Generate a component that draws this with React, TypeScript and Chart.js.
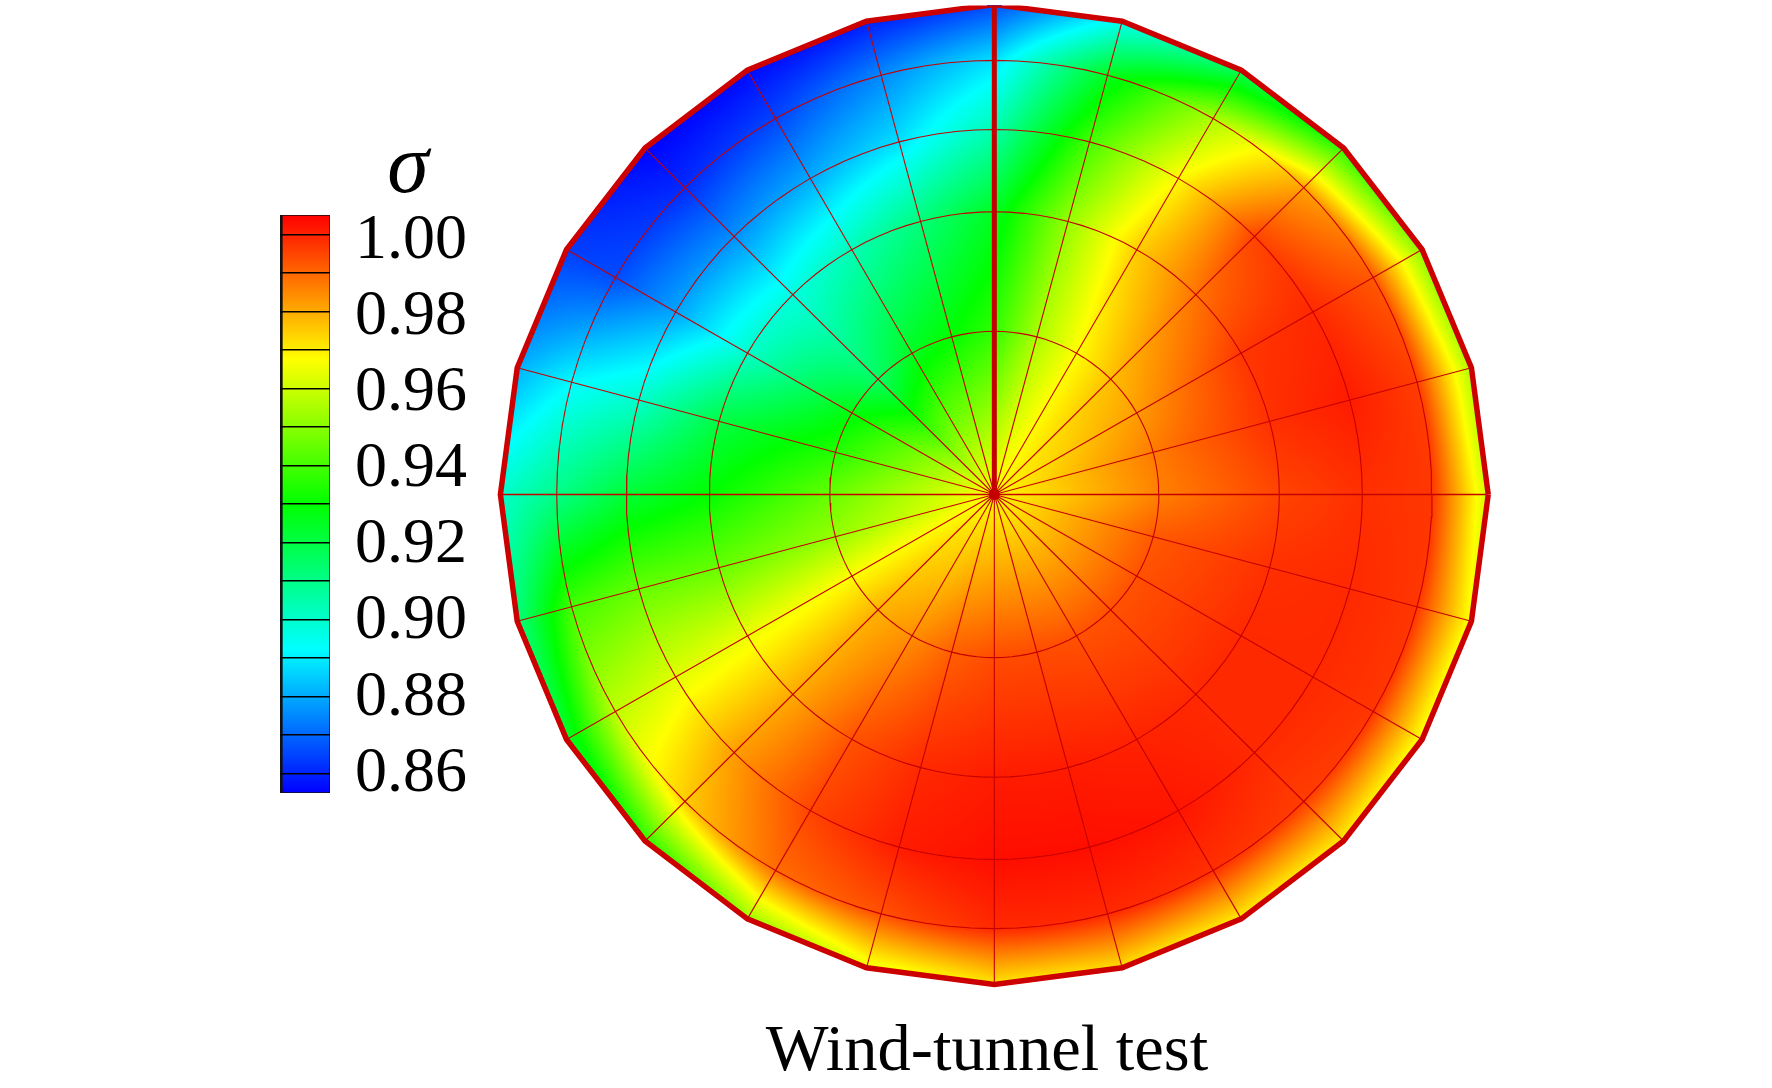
import React, { useEffect, useRef } from "react";
import { Chart, registerables } from "chart.js";

Chart.register(...registerables);

// Mesh: 24 spokes (0 deg = east, counter-clockwise, every 15 deg), 5 rings, one centre node
const spokeAngles = [0, 15, 30, 45, 60, 75, 90, 105, 120, 135, 150, 165, 180, 195, 210, 225, 240, 255, 270, 285, 300, 315, 330, 345];
const ringRadii = [0.333, 0.577, 0.745, 0.886, 1.0];
const centreValue = 0.968;

// sigma at the nodes of each ring, in spoke order
const ring1 = [0.986, 0.987, 0.982, 0.977, 0.9675, 0.955, 0.937, 0.93, 0.925, 0.915, 0.928, 0.935, 0.945, 0.952, 0.9675, 0.979, 0.984, 0.991, 0.994, 0.994, 0.993, 0.993, 0.993, 0.992];
const ring2 = [0.995, 0.998, 0.997, 0.988, 0.975, 0.952, 0.925, 0.912, 0.903, 0.897, 0.9, 0.92, 0.93, 0.945, 0.965, 0.98, 0.993, 0.999, 1.001, 1.001, 1.0, 0.999, 0.999, 0.998];
const ring3 = [0.998, 1.001, 0.999, 0.995, 0.968, 0.94, 0.904, 0.888, 0.88, 0.876, 0.879, 0.9, 0.922, 0.945, 0.963, 0.982, 0.995, 1.001, 1.003, 1.003, 1.002, 0.999, 0.999, 0.999];
const ring4 = [0.997, 0.996, 0.992, 0.981, 0.955, 0.925, 0.888, 0.875, 0.865, 0.861, 0.866, 0.892, 0.91, 0.94, 0.958, 0.975, 0.989, 0.993, 0.999, 0.999, 0.998, 0.996, 0.997, 0.997];
const ring5 = [0.96, 0.955, 0.95, 0.936, 0.917, 0.895, 0.866, 0.859, 0.856, 0.855, 0.864, 0.881, 0.9, 0.912, 0.923, 0.936, 0.952, 0.964, 0.971, 0.972, 0.97, 0.97, 0.966, 0.966];
const rings = [ring1, ring2, ring3, ring4, ring5];

// Colour bar
const colourLevels = [0.86, 0.87, 0.88, 0.89, 0.9, 0.91, 0.92, 0.93, 0.94, 0.95, 0.96, 0.97, 0.98, 0.99, 1.0];
const labelledLevels = [0.86, 0.88, 0.9, 0.92, 0.94, 0.96, 0.98, 1.0];
const colourMin = 0.855;
const colourMax = 1.005;
const colourName = "σ";
const chartCaption = "Wind-tunnel test";

const rainbow: number[][] = [
  [0, 0, 255],
  [0, 255, 255],
  [0, 255, 0],
  [255, 255, 0],
  [255, 0, 0],
];

function colourOf(v: number): number[] {
  const f = Math.min(0.99999, Math.max(0, (v - colourMin) / (colourMax - colourMin))) * 4;
  const k = Math.floor(f);
  const t = f - k;
  const a = rainbow[k];
  const b = rainbow[k + 1];
  return [a[0] + (b[0] - a[0]) * t, a[1] + (b[1] - a[1]) * t, a[2] + (b[2] - a[2]) * t];
}

const STEP = 15;
const rad = (d: number) => (d * Math.PI) / 180;
const node = (r: number, deg: number) => ({ x: r * Math.cos(rad(deg)), y: r * Math.sin(rad(deg)) });

function sigmaAt(x: number, y: number): number | null {
  const r = Math.hypot(x, y);
  let deg = (Math.atan2(y, x) * 180) / Math.PI;
  if (deg < 0) deg += 360;
  const i = Math.floor(deg / STEP) % spokeAngles.length;
  const i2 = (i + 1) % spokeAngles.length;
  const mid = rad(spokeAngles[i] + STEP / 2);
  const half = rad(STEP / 2);
  const off = rad(deg) - mid;
  const chord = Math.cos(half) / Math.cos(off);
  if (r > chord) return null;
  const t = (Math.tan(off) / Math.tan(half) + 1) / 2;
  const at = (j: number) => (j < 0 ? centreValue : rings[j][i] * (1 - t) + rings[j][i2] * t);
  const last = ringRadii.length - 1;
  let j = 0;
  while (j < last && r > ringRadii[j]) j++;
  const lo = j === 0 ? 0 : ringRadii[j - 1];
  const hi = j === last ? chord : ringRadii[j];
  const u = (r - lo) / (hi - lo);
  return at(j - 1) * (1 - u) + at(j) * u;
}

const meshFill = {
  id: "meshFill",
  beforeDatasetsDraw(chart: any) {
    const { x: xs, y: ys } = chart.scales;
    const left = Math.floor(xs.getPixelForValue(-1.02));
    const right = Math.ceil(xs.getPixelForValue(1.02));
    const top = Math.max(0, Math.floor(ys.getPixelForValue(1.02)));
    const bottom = Math.ceil(ys.getPixelForValue(-1.02));
    const w = right - left;
    const h = bottom - top;
    const off = document.createElement("canvas");
    off.width = w;
    off.height = h;
    const octx = off.getContext("2d")!;
    const img = octx.createImageData(w, h);
    for (let py = 0; py < h; py++) {
      const dy = ys.getValueForPixel(top + py + 0.5);
      for (let px = 0; px < w; px++) {
        const dx = xs.getValueForPixel(left + px + 0.5);
        const v = sigmaAt(dx, dy);
        if (v === null) continue;
        const c = colourOf(v);
        const p = (py * w + px) * 4;
        img.data[p] = c[0];
        img.data[p + 1] = c[1];
        img.data[p + 2] = c[2];
        img.data[p + 3] = 255;
      }
    }
    octx.putImageData(img, 0, 0);
    chart.ctx.drawImage(off, left, top);
  },
  afterDraw(chart: any) {
    const { ctx, scales } = chart;
    ctx.save();
    ctx.fillStyle = "#000";
    ctx.font = '66.5px "Liberation Serif"';
    ctx.textAlign = "center";
    ctx.textBaseline = "alphabetic";
    ctx.fillText(chartCaption, scales.x.getPixelForValue(-0.015), scales.y.getPixelForValue(-1.174));
    ctx.restore();
  },
};

const legendTitle = {
  id: "legendTitle",
  afterDraw(chart: any) {
    const { ctx, chartArea } = chart;
    ctx.save();
    ctx.fillStyle = "#000";
    ctx.font = 'italic 84px "Liberation Serif"';
    ctx.textAlign = "center";
    ctx.textBaseline = "alphabetic";
    ctx.fillText(colourName, chartArea.right + 78, chartArea.top - 23);
    ctx.restore();
  },
};

const MESH = "#c40000";

function lineDataset(data: { x: number; y: number }[], width: number, color = MESH) {
  return { data, showLine: true, borderColor: color, borderWidth: width, pointRadius: 0, tension: 0, fill: false };
}

export default function App() {
  const mainRef = useRef<HTMLCanvasElement>(null);
  const legendRef = useRef<HTMLCanvasElement>(null);

  useEffect(() => {
    const cx = 995;
    const cy = 494;
    const kx = 497;
    const ky = 495;
    const W = 1772;
    const H = 1088;
    const last = ringRadii.length - 1;
    const ringSets = ringRadii.map((r, j) => {
      const pts: { x: number; y: number }[] = [];
      if (j === last) {
        spokeAngles.forEach((a) => pts.push(node(r, a)));
      } else {
        spokeAngles.forEach((a) => {
          for (let d = 0; d < STEP; d += 3) pts.push(node(r, a + d));
        });
      }
      pts.push(pts[0]);
      return lineDataset(pts, j === last ? 5.5 : 1.1, j === last ? "#cc0000" : MESH);
    });
    const spokeSets = spokeAngles.map((a) => lineDataset([node(0, a), node(1, a)], a === 90 ? 5 : a === 0 || a === 180 ? 1.6 : 1.1));
    const centre = { data: [node(0, 0)], pointRadius: 5.5, pointBackgroundColor: "#c40000", pointBorderWidth: 0, showLine: false };

    const main = new Chart(mainRef.current!, {
      type: "scatter",
      data: { datasets: [...spokeSets, ...ringSets, centre] as any },
      options: {
        animation: false,
        responsive: false,
        layout: { padding: 0 },
        plugins: { legend: { display: false }, tooltip: { enabled: false } },
        scales: {
          x: { type: "linear", display: false, min: -cx / kx, max: (W - cx) / kx },
          y: { type: "linear", display: false, min: (cy - H) / ky, max: cy / ky },
        },
      },
      plugins: [meshFill],
    } as any);

    const legend = new Chart(legendRef.current!, {
      type: "bar",
      data: {
        labels: [colourName],
        datasets: [
          {
            data: [[colourMin, colourMax]],
            barPercentage: 1,
            categoryPercentage: 1,
            borderSkipped: false,
            borderColor: "#111",
            borderWidth: { left: 3, right: 1, top: 1, bottom: 1 },
            backgroundColor: (c: any) => {
              const area = c.chart.chartArea;
              if (!area) return "#000";
              const g = c.chart.ctx.createLinearGradient(0, area.bottom, 0, area.top);
              rainbow.forEach((rgb, k) => g.addColorStop(k / 4, `rgb(${rgb.join(",")})`));
              return g;
            },
          },
        ],
      },
      options: {
        animation: false,
        responsive: false,
        layout: { padding: { left: 12, right: 21, top: 85, bottom: 97 } },
        plugins: { legend: { display: false }, tooltip: { enabled: false } },
        scales: {
          x: { display: false },
          y: {
            position: "left",
            min: colourMin,
            max: colourMax,
            border: { display: false },
            afterBuildTicks: (s: any) => {
              s.ticks = colourLevels.map((value) => ({ value }));
            },
            afterFit: (s: any) => {
              s.width = 0;
            },
            grid: { z: 1, color: "#000", lineWidth: 1.5, drawTicks: false },
            ticks: { display: false },
          },
          labels: {
            position: "right",
            min: 0.855,
            max: 1.0068,
            border: { display: false },
            afterBuildTicks: (s: any) => {
              s.ticks = labelledLevels.map((value) => ({ value }));
            },
            afterFit: (s: any) => {
              s.width = 137;
            },
            grid: { display: false, drawTicks: false },
            ticks: {
              autoSkip: false,
              maxRotation: 0,
              padding: 24,
              crossAlign: "far",
              color: "#000",
              font: { family: '"Liberation Serif"', size: 64 },
              callback: (v: any) => Number(v).toFixed(2),
            },
          },
        },
      },
      plugins: [legendTitle],
    } as any);

    return () => {
      main.destroy();
      legend.destroy();
    };
  }, []);

  return (
    <div style={{ position: "fixed", left: 0, top: 0, width: 1772, height: 1088, background: "#fff", overflow: "hidden" }}>
      <canvas ref={mainRef} width={1772} height={1088} style={{ position: "absolute", left: 0, top: 0, width: 1772, height: 1088 }} />
      <canvas ref={legendRef} width={220} height={760} style={{ position: "absolute", left: 268, top: 130, width: 220, height: 760 }} />
    </div>
  );
}
